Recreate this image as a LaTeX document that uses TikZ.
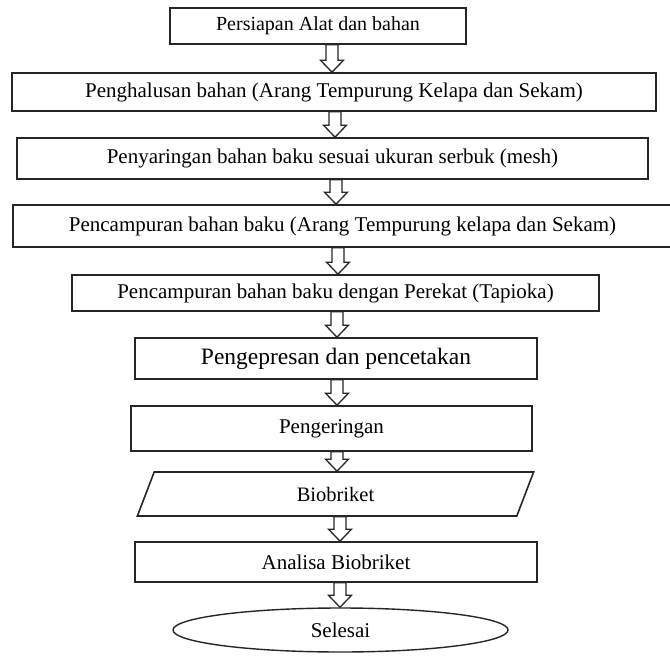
\documentclass[tikz,border=0pt]{standalone}
\usepackage{fontspec}
\setmainfont{Liberation Serif}
\usetikzlibrary{calc,shapes.geometric}
\tikzset{
  stepbox/.style={draw=black!85, line width=1.6pt, rectangle, inner sep=0pt, font=\fontsize{21}{25}\selectfont},
  iobox/.style={draw=black!85, line width=1.6pt, trapezium, trapezium left angle=76, trapezium right angle=104, trapezium stretches=true, inner sep=0pt, font=\fontsize{20.5}{24}\selectfont},
  endbox/.style={draw=black!85, line width=1.4pt, ellipse, inner sep=0pt, font=\fontsize{21}{25}\selectfont},
  arrowline/.style={draw=black!85, line width=1.3pt, fill=white, line join=miter}
}
\newcommand{\hollowarrow}[3]{%
  \draw[arrowline] let \p1=(#1.south), \p2=(#2.north) in
    ({#3pt-6pt},{\y1}) -- ({#3pt+6pt},{\y1}) -- ({#3pt+6pt},{\y2+12pt}) -- ({#3pt+11.5pt},{\y2+12pt})
    -- ({#3pt},{\y2}) -- ({#3pt-11.5pt},{\y2+12pt}) -- ({#3pt-6pt},{\y2+12pt}) -- cycle;}
\begin{document}
\begin{tikzpicture}[x=1pt,y=-1pt]
\useasboundingbox (0,0) rectangle (670,656);
\node[stepbox, minimum width=296pt, minimum height=36pt, font=\fontsize{20}{24}\selectfont] (n1) at (318,26) {Persiapan Alat dan bahan};
\node[stepbox, minimum width=644pt, minimum height=38pt] (n2) at (334,92) {Penghalusan bahan (Arang Tempurung Kelapa dan Sekam)};
\node[stepbox, minimum width=631pt, minimum height=41pt] (n3) at (332.5,158.5) {Penyaringan bahan baku sesuai ukuran serbuk (mesh)};
\node[stepbox, minimum width=659pt, minimum height=42pt] (n4) at (342.5,226) {Pencampuran bahan baku (Arang Tempurung kelapa dan Sekam)};
\node[stepbox, minimum width=527pt, minimum height=36pt] (n5) at (335.5,293) {Pencampuran bahan baku dengan Perekat (Tapioka)};
\node[stepbox, minimum width=402pt, minimum height=41pt, font=\fontsize{23.5}{28}\selectfont] (n6) at (336,358.5) {Pengepresan dan pencetakan};
\node[stepbox, minimum width=401pt, minimum height=45pt] (n7) at (331.5,428.5) {Pengeringan};
\node[iobox, minimum width=397pt, minimum height=44pt] (n8) at (335.5,494) {Biobriket};
\node[stepbox, minimum width=402pt, minimum height=40pt] (n9) at (336,562) {Analisa Biobriket};
\node[endbox, minimum width=335pt, minimum height=44pt] (n10) at (340.5,630) {Selesai};
\hollowarrow{n1}{n2}{332}
\hollowarrow{n2}{n3}{335}
\hollowarrow{n3}{n4}{336}
\hollowarrow{n4}{n5}{338}
\hollowarrow{n5}{n6}{337}
\hollowarrow{n6}{n7}{337}
\hollowarrow{n7}{n8}{337}
\hollowarrow{n8}{n9}{340}
\hollowarrow{n9}{n10}{340}
\end{tikzpicture}
\end{document}
